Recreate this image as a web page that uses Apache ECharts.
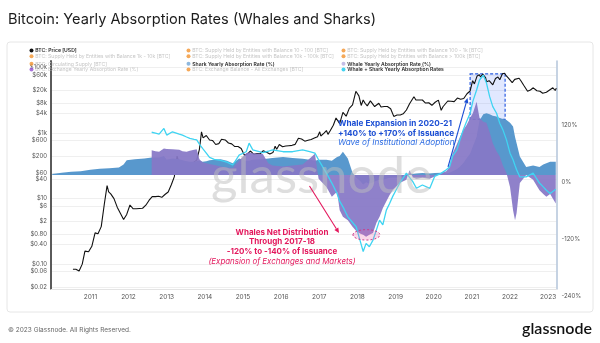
<!DOCTYPE html>
<html><head><meta charset="utf-8">
<script src="https://cdn.jsdelivr.net/npm/echarts@6/dist/echarts.min.js"></script>
<style>html,body{margin:0;padding:0;background:#fff}#c{width:600px;height:343px}</style>
</head><body><div id="c"></div>
<script>
// ---------------- DATA ----------------
const priceDates = ['2010-07-18','2010-08-15','2010-09-15','2010-10-15','2010-11-10','2010-12-15','2011-01-15','2011-02-15','2011-03-15','2011-04-15','2011-05-15','2011-06-10','2011-06-25','2011-07-15','2011-08-15','2011-09-15','2011-10-15','2011-11-15','2011-12-15','2012-01-15','2012-02-15','2012-03-15','2012-04-15','2012-05-15','2012-06-15','2012-07-15','2012-08-15','2012-09-15','2012-10-15','2012-11-15','2012-12-15','2013-01-15','2013-02-15','2013-03-15','2013-04-10','2013-04-25','2013-05-15','2013-06-15','2013-07-15','2013-08-15','2013-09-15','2013-10-15','2013-11-10','2013-11-30','2013-12-15','2014-01-15','2014-02-15','2014-03-15','2014-04-15','2014-05-15','2014-06-10','2014-07-15','2014-08-15','2014-09-15','2014-10-15','2014-11-15','2014-12-15','2015-01-15','2015-02-15','2015-03-15','2015-04-15','2015-05-15','2015-06-15','2015-07-15','2015-08-15','2015-09-15','2015-10-15','2015-11-05','2015-11-20','2015-12-15','2016-01-15','2016-02-15','2016-03-15','2016-04-15','2016-05-15','2016-06-15','2016-07-15','2016-08-15','2016-09-15','2016-10-15','2016-11-15','2016-12-15','2017-01-05','2017-01-15','2017-02-15','2017-03-10','2017-03-25','2017-04-15','2017-05-15','2017-06-10','2017-07-15','2017-08-15','2017-09-15','2017-10-15','2017-11-15','2017-12-17','2018-01-15','2018-02-06','2018-02-25','2018-03-15','2018-04-05','2018-05-05','2018-06-15','2018-07-25','2018-08-15','2018-09-15','2018-10-15','2018-11-15','2018-12-15','2019-01-15','2019-02-15','2019-03-15','2019-04-15','2019-05-15','2019-06-26','2019-07-15','2019-08-15','2019-09-15','2019-10-15','2019-10-27','2019-11-15','2019-12-15','2020-01-15','2020-02-15','2020-03-13','2020-03-30','2020-04-15','2020-05-15','2020-06-15','2020-07-15','2020-08-15','2020-09-15','2020-10-15','2020-11-15','2020-12-15','2021-01-08','2021-01-25','2021-02-20','2021-03-13','2021-03-25','2021-04-14','2021-05-12','2021-05-22','2021-06-15','2021-07-20','2021-08-15','2021-09-07','2021-09-25','2021-10-20','2021-11-10','2021-11-25','2021-12-15','2022-01-22','2022-02-15','2022-03-29','2022-04-15','2022-05-12','2022-06-18','2022-07-15','2022-08-12','2022-09-15','2022-10-15','2022-11-10','2022-12-15','2023-01-15','2023-02-15','2023-03-10','2023-03-20'];
const priceValues = [0.07,0.07,0.062,0.1,0.25,0.24,0.35,0.9,0.85,1.4,7,25,16,14,10,5.5,3.6,2.3,3.3,6.4,4.9,4.9,5,5.1,6.3,8.8,11.5,11.5,11.8,11,13.4,16,27,47,200,140,118,100,95,110,128,150,320,1100,720,850,620,600,450,480,650,620,500,470,390,390,340,210,235,285,225,237,235,290,260,230,255,400,325,450,385,405,415,425,455,700,665,570,608,640,710,780,1100,820,1000,1200,920,1180,1750,2900,1950,4300,3300,5700,7300,19000,13800,7000,10300,8200,6800,9700,6500,8200,6300,6500,6500,5600,3250,3600,3600,3900,5100,7900,12900,10300,10300,10300,8300,9500,8500,7100,8800,10200,5000,6400,6900,9600,9400,9200,11800,10800,11500,16000,19400,40000,32000,56000,61000,52000,63500,50000,37000,40000,30000,47000,52000,42800,65000,67500,57000,48500,35000,44000,47500,40000,29000,19000,20800,24300,19700,19100,16500,17800,20800,24300,20100,23800];

const rateDates = ['2010-01-01','2010-04-01','2010-07-01','2010-10-01','2011-01-01','2011-04-01','2011-07-01','2011-10-01','2011-11-15','2011-12-15','2012-03-01','2012-06-01','2012-08-10','2012-09-15','2012-10-20','2012-12-05','2013-01-01','2013-02-25','2013-05-01','2013-06-01','2013-07-10','2013-08-10','2013-09-20','2013-10-15','2013-11-10','2013-12-10','2014-01-15','2014-02-15','2014-04-01','2014-06-01','2014-08-01','2014-09-25','2014-11-25','2015-02-01','2015-03-01','2015-04-05','2015-07-10','2015-09-01','2015-10-10','2016-01-20','2016-04-20','2016-07-25','2016-10-01','2016-11-20','2016-12-25','2017-03-10','2017-05-01','2017-06-20','2017-07-15','2017-08-15','2017-10-01','2017-11-15','2017-12-20','2018-01-25','2018-02-25','2018-03-25','2018-04-25','2018-05-30','2018-07-01','2018-08-01','2018-09-01','2018-10-05','2018-11-05','2018-12-05','2019-01-05','2019-02-10','2019-04-15','2019-05-15','2019-06-15','2019-07-20','2019-09-15','2019-11-25','2020-01-10','2020-03-15','2020-05-01','2020-06-01','2020-07-01','2020-08-10','2020-09-10','2020-10-10','2020-11-10','2020-12-15','2021-01-10','2021-02-15','2021-03-15','2021-04-20','2021-05-20','2021-06-20','2021-07-20','2021-08-25','2021-09-25','2021-10-25','2021-11-28','2022-01-01','2022-01-30','2022-02-18','2022-03-05','2022-04-05','2022-06-05','2022-08-10','2022-10-10','2022-11-15','2022-12-15','2023-01-20','2023-03-15'];
const sharkRate = [2,5,7,8,11,13,14,16,22,31,33,35,37,37,37,40,32,35,33,31,29,28,28,29,30,28,29,31,32,33,30,25,35,30,30,32,33,35,36,38,36,34,32,30,32,32,30,38,40,49,35,5,-5,-12,-20,-15,-18,-15,-12,-10,-10,-8,-6,-5,-5,-4,-3,3,2,3,4,3,4,5,3,5,8,12,18,25,35,45,60,80,115,128,130,128,125,123,120,118,116,110,102,80,67,39,17,20,17,22,25,28,28];
const whaleRate = [null,null,null,null,null,null,null,null,null,null,null,null,52,50,49,56,55,54,53,50,49,51,53,54,33,27,25,23,21,18,16,15,30,46,48,46,44,25,20,18,20,22,35,45,-8,-25,-46,-35,-74,-88,-95,-109,-118,-123,-126,-130,-126,-122,-101,-88,-70,-55,-42,-32,-25,-17,-10,10,-5,-8,-6,-8,-3,5,8,17,46,65,81,95,105,120,130,154,120,112,110,90,67,50,39,20,4,-25,-74,-95,-80,-17,0,-10,-32,-40,-46,-40,-60];
const comboRate = [null,null,null,null,null,null,null,null,null,null,null,null,90,88,86,98,84,91,86,84,80,77,75,74,65,56,46,37,33,31,27,21,42,49,67,53,47,50,53,49,49,53,49,46,32,4,-17,-39,-55,-67,-88,-100,-109,-137,-161,-144,-151,-137,-116,-95,-105,-74,-60,-45,-32,-17,4,-5,-14,-28,-21,-28,-3,4,11,17,40,53,75,95,112,130,155,179,200,210,194,165,144,130,109,95,74,46,32,20,11,-4,-4,4,-17,-25,-32,-39,-30];

const priceTicks = [0.02,0.06,0.1,0.4,0.8,2,6,10,40,60,200,600,1000,4000,8000,20000,60000,100000];
const rateTicks = [-240,-120,0,120];
const yearTicks = ['2011-01-01','2012-01-01','2013-01-01','2014-01-01','2015-01-01','2016-01-01','2017-01-01','2018-01-01','2019-01-01','2020-01-01','2021-01-01','2022-01-01','2023-01-01'];

const legendItems = [
  ['BTC: Price [USD]', '#111111', true],
  ['BTC: Supply Held by Entities with Balance 1k - 10k [BTC]', '#f39a3c', false],
  ['BTC: Circulating Supply [BTC]', '#f39a3c', false],
  ['BTC: Exchange Yearly Absorption Rate (%)', '#9a5ad6', false],
  ['BTC: Supply Held by Entities with Balance 10 - 100 [BTC]', '#f39a3c', false],
  ['BTC: Supply Held by Entities with Balance 10k - 100k [BTC]', '#f39a3c', false],
  ['Shark Yearly Absorption Rate (%)', '#8fb8de', true],
  ['BTC: Exchange Balance - All Exchanges [BTC]', '#f39a3c', false],
  ['BTC: Supply Held by Entities with Balance 100 - 1k [BTC]', '#f39a3c', false],
  ['BTC: Supply Held by Entities with Balance > 100k [BTC]', '#f39a3c', false],
  ['Whale Yearly Absorption Rate (%)', '#c4bde6', true],
  ['Whale + Shark Yearly Absorption Rates', '#45d3f0', true]
];

// ---------------- CHART ----------------
const T = s => Date.parse(s);
const chart = echarts.init(document.getElementById('c'));
const fmtPrice = v => {
  if (v >= 1000) return '$' + Math.round(v / 1000) + 'k';
  if (v < 1) return '$' + v.toFixed(2);
  return '$' + Math.round(v);
};
const pair = (dates, vals) => dates.map((d, i) => [T(d), vals[i]]);

const option = {
  animation: false,
  grid: { left: 51, right: 43.5, top: 61, bottom: 54 },
  xAxis: {
    type: 'value', min: T('2009-12-20'), max: T('2023-03-22'),
    axisLine: { show: true, onZero: false, lineStyle: { color: '#e4e4e4', width: 1 } },
    axisTick: { show: false },
    splitLine: { show: false },
    axisLabel: { customValues: yearTicks.map(T), formatter: v => String(new Date(v).getUTCFullYear()),
      color: '#555', fontSize: 6.5, margin: 5, fontFamily: 'Inter' }
  },
  yAxis: [
    { type: 'log', min: 0.0174, max: 160000, position: 'left',
      axisLine: { show: true, lineStyle: { color: '#5a5a5a', width: 2 } },
      axisTick: { show: false, customValues: priceTicks },
      splitLine: { show: true, lineStyle: { color: '#efefef', width: 1 } },
      axisLabel: { customValues: priceTicks, formatter: fmtPrice, fontSize: 6, color: '#555', margin: 4, fontFamily: 'Inter' } },
    { type: 'value', min: -240, max: 240, position: 'right',
      axisLine: { show: true, onZero: false, lineStyle: { color: '#b3c4da', width: 1.5 } },
      axisTick: { show: false },
      splitLine: { show: false },
      axisLabel: { customValues: rateTicks, formatter: v => v + '%', fontSize: 6, color: '#555', margin: 5,
        verticalAlign: 'top', padding: [4, 0, 0, 0], fontFamily: 'Inter' } }
  ],
  series: [
    { name: 'BTC: Price [USD]', type: 'line', yAxisIndex: 0, data: pair(priceDates, priceValues),
      showSymbol: false, lineStyle: { color: '#111', width: 1.1 }, z: 1 },
    { name: 'Shark Yearly Absorption Rate (%)', type: 'line', yAxisIndex: 1, data: pair(rateDates, sharkRate),
      showSymbol: false, lineStyle: { width: 0 }, areaStyle: { color: '#5898cd', opacity: 1 }, z: 2 },
    { name: 'Whale Yearly Absorption Rate (%)', type: 'line', yAxisIndex: 1, data: pair(rateDates, whaleRate),
      showSymbol: false, lineStyle: { width: 0 }, areaStyle: { color: '#8677c6', opacity: 0.93 }, z: 3 },
    { name: 'Whale + Shark Yearly Absorption Rates', type: 'line', yAxisIndex: 1, data: pair(rateDates, comboRate),
      showSymbol: false, lineStyle: { color: '#3fd4f2', width: 1.3 }, z: 4,
      markArea: { silent: true, itemStyle: { color: 'rgba(120,150,255,0.22)', borderColor: '#2a5ce0', borderWidth: 1.2, borderType: [3, 2] },
        data: [[{ xAxis: T('2020-12-15'), yAxis: 213 }, { xAxis: T('2021-11-15'), yAxis: 117 }]] } }
  ]
};
chart.setOption(option);

// ---------------- GRAPHICS (title, legend, annotations) ----------------
const g = [];
const txt = (x, y, text, font, fill, align) => g.push({ type: 'text', z: 100, silent: true,
  style: { x, y, text, font, fill, align: align || 'left', verticalAlign: 'middle' } });
const arrow = (x1, y1, x2, y2, color) => {
  const a = Math.atan2(y2 - y1, x2 - x1), L = 5, W = 2.3;
  const bx = x2 - L * Math.cos(a), by = y2 - L * Math.sin(a);
  g.push({ type: 'line', z: 100, silent: true, shape: { x1, y1, x2: bx, y2: by }, style: { stroke: color, lineWidth: 1.1 } });
  g.push({ type: 'polygon', z: 100, silent: true, shape: { points: [[x2, y2],
    [bx + W * Math.sin(a), by - W * Math.cos(a)], [bx - W * Math.sin(a), by + W * Math.cos(a)]] }, style: { fill: color } });
};

g.push({ type: 'rect', z: 0, silent: true, shape: { x: 7, y: 42, width: 586, height: 270, r: 3 }, style: { fill: 'none', stroke: '#e6e6e6', lineWidth: 1 } });
txt(8, 19.5, 'Bitcoin: Yearly Absorption Rates (Whales and Sharks)', '400 14.6px Inter', '#1c1c1c');
txt(8, 330, '© 2023 Glassnode. All Rights Reserved.', '400 6.5px Inter', '#666');
txt(592, 328.5, 'glassnode', '600 16px Lato', '#111', 'right');

const colX = [31.5, 188.5, 343.5];
const rowY = [50.5, 56.2, 63.8, 69.5];
legendItems.forEach((it, i) => {
  const cx = colX[Math.floor(i / 4)], cy = rowY[i % 4];
  g.push({ type: 'circle', z: 100, silent: true, shape: { cx, cy, r: 2 }, style: { fill: it[1], opacity: it[2] ? 1 : 0.85 } });
  txt(cx + 3.8, cy + 0.3, it[0], (it[2] ? '600 ' : '400 ') + '5.1px Inter', it[2] ? '#2a2a2a' : '#c6c6c6');
});

g.push({ type: 'text', z: 90, silent: true, style: { x: 211, y: 177, text: 'glassnode', font: '400 51px Lato',
  fill: 'rgba(190,190,190,0.5)', align: 'left', verticalAlign: 'middle' } });

txt(338, 123.5, 'Whale Expansion in 2020-21', '700 8.2px Inter', '#1c4fd4');
txt(338, 133.5, '+140% to +170% of Issuance', '700 8.2px Inter', '#1c4fd4');
txt(338, 143, 'Wave of Institutional Adoption', 'italic 400 8.2px Inter', '#2f6ee4');
arrow(448, 167, 467.5, 98, '#1c4fd4');

txt(282, 232.5, 'Whales Net Distribution', '700 8px Inter', '#e3175c', 'center');
txt(282, 242, 'Through 2017-18', '700 8px Inter', '#e3175c', 'center');
txt(282, 251.5, '-120% to -140% of Issuance', '700 8px Inter', '#e3175c', 'center');
txt(282, 261.5, '(Expansion of Exchanges and Markets)', 'italic 400 7.9px Inter', '#e3175c', 'center');
arrow(309.5, 186, 339, 233, '#e3175c');

const ec = chart.convertToPixel({ xAxisIndex: 0, yAxisIndex: 1 }, [T('2018-03-28'), -126]);
g.push({ type: 'ellipse', z: 95, silent: true, shape: { cx: ec[0], cy: ec[1], rx: 13.5, ry: 5.2 },
  style: { fill: 'rgba(235,100,170,0.25)', stroke: '#cc3a8a', lineWidth: 1, lineDash: [2, 2] } });

chart.setOption({ graphic: { elements: g } });
</script>
</body></html>
